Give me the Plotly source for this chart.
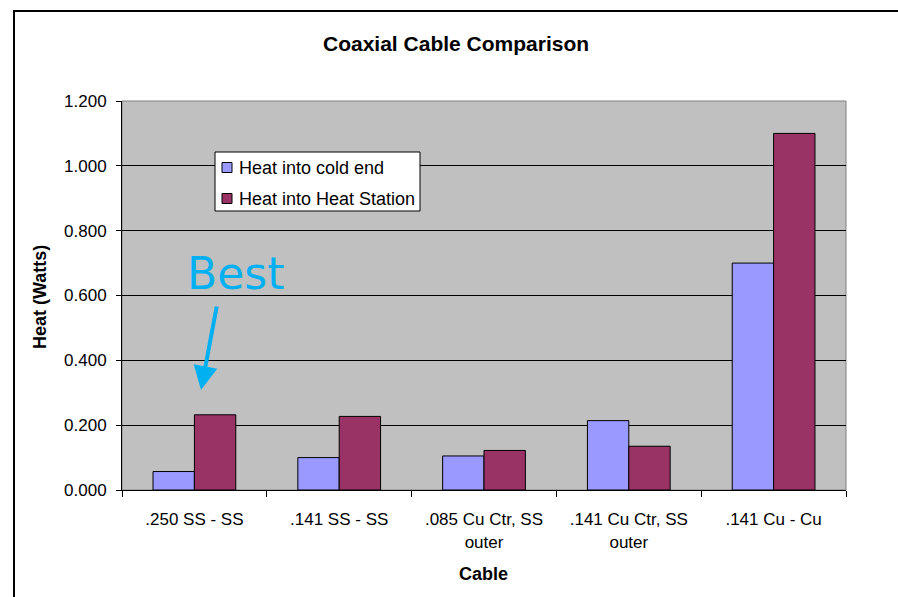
import plotly.graph_objects as go

categories = [".250 SS - SS", ".141 SS - SS", ".085 Cu Ctr, SS<br>outer", ".141 Cu Ctr, SS<br>outer", ".141 Cu - Cu"]
series_names = ["Heat into cold end", "Heat into Heat Station"]
cold_end = [0.057, 0.100, 0.105, 0.214, 0.700]
heat_station = [0.232, 0.227, 0.122, 0.135, 1.100]
y_ticks = [0.0, 0.2, 0.4, 0.6, 0.8, 1.0, 1.2]
colors = ["#9999FF", "#993366"]

W, H = 898, 597
L, R, T, B = 122, 52, 101, 107
pw, ph = W - L - R, H - T - B

def px(x):
    return (x - L) / pw

def py(y):
    return (H - B - y) / ph

font = "Arial, Liberation Sans, sans-serif"

fig = go.Figure()
for name, vals, col in zip(series_names, [cold_end, heat_station], colors):
    fig.add_trace(go.Bar(x=categories, y=vals, name=name, showlegend=False,
                         marker=dict(color=col, line=dict(color="black", width=1))))

fig.update_layout(
    width=W, height=H,
    margin=dict(l=L, r=R, t=T, b=B),
    paper_bgcolor="white", plot_bgcolor="#C0C0C0",
    barmode="group", bargap=0.4286, bargroupgap=0,
    font=dict(family=font, size=17, color="black"),
    showlegend=False,
)
fig.update_xaxes(showline=True, linecolor="black", linewidth=1,
                 ticks="outside", tickson="boundaries", ticklen=6, tickcolor="black",
                 tickfont=dict(size=17), showgrid=False, ticklabelstandoff=14)
fig.update_yaxes(range=[0, 1.2], tickvals=y_ticks, tickformat=".3f",
                 showline=True, linecolor="black", linewidth=1,
                 ticks="outside", ticklen=5, tickcolor="black",
                 showgrid=True, gridcolor="black", gridwidth=1,
                 tickfont=dict(size=17), zeroline=False, ticklabelstandoff=6)

fig.add_shape(type="rect", xref="paper", yref="paper", x0=0, x1=1, y0=0, y1=1,
              line=dict(color="#808080", width=1), layer="below")
fig.add_shape(type="rect", xref="paper", yref="paper",
              x0=px(14), x1=px(910), y0=py(610), y1=py(11),
              line=dict(color="black", width=2))

# legend box (manual, to match the original's compact layout)
fig.add_shape(type="rect", xref="paper", yref="paper",
              x0=px(215), x1=px(420), y0=py(211), y1=py(152),
              fillcolor="white", line=dict(color="black", width=1), layer="above")
for i, (name, col) in enumerate(zip(series_names, colors)):
    cy = 167.5 + i * 31
    fig.add_shape(type="rect", xref="paper", yref="paper",
                  x0=px(222), x1=px(232), y0=py(cy + 5), y1=py(cy - 5),
                  fillcolor=col, line=dict(color="black", width=1), layer="above")
    fig.add_annotation(text=name, xref="paper", yref="paper",
                       x=px(237), y=py(cy), xanchor="left", yanchor="middle",
                       showarrow=False, font=dict(size=18))

fig.add_annotation(text="<b>Coaxial Cable Comparison</b>", xref="paper", yref="paper",
                   x=px(456), y=py(43), xanchor="center", yanchor="middle",
                   showarrow=False, font=dict(size=21))
fig.add_annotation(text="<b>Cable</b>", xref="paper", yref="paper",
                   x=px(483), y=py(574), xanchor="center", yanchor="middle",
                   showarrow=False, font=dict(size=18))
fig.add_annotation(text="<b>Heat (Watts)</b>", xref="paper", yref="paper",
                   x=px(40), y=py(297), xanchor="center", yanchor="middle",
                   showarrow=False, textangle=-90, font=dict(size=18))
fig.add_annotation(text="Best", xref="paper", yref="paper",
                   x=px(235), y=py(273), xanchor="center", yanchor="middle", showarrow=False,
                   font=dict(size=44, color="#00B0F0", family="Comic Sans MS, DejaVu Sans, sans-serif"))
fig.add_annotation(text="", xref="paper", yref="paper", x=px(201), y=py(390),
                   ax=16, ay=-85, showarrow=True, arrowhead=2, arrowsize=1.2,
                   arrowwidth=4, arrowcolor="#00B0F0", standoff=0)

fig.write_html("out.html", config={"displayModeBar": False},
               post_script="document.body.style.margin='0';document.documentElement.style.overflow='hidden';")
